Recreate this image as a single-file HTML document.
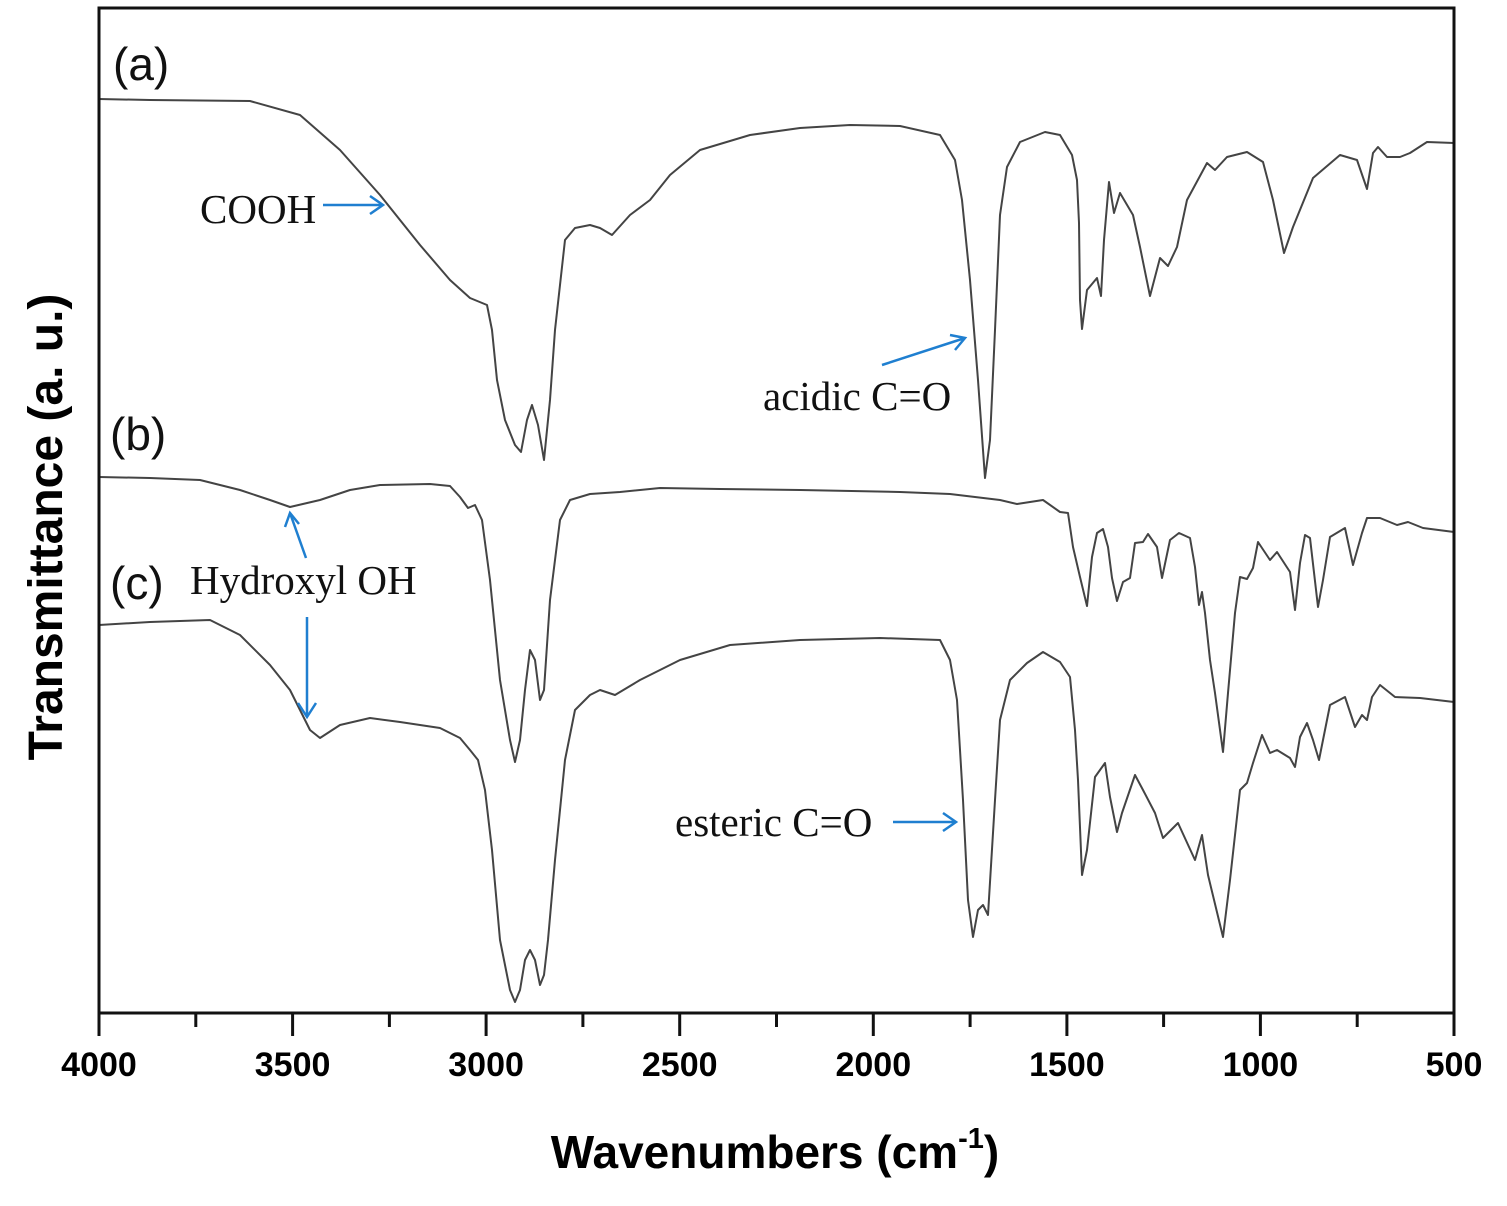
<!DOCTYPE html>
<html><head><meta charset="utf-8"><style>
html,body{margin:0;padding:0;background:#fff;}
svg{display:block;}
.tk{font-family:"Liberation Sans",Arial,sans-serif;font-weight:bold;font-size:34px;text-anchor:middle;}
.tm{font-family:"Liberation Serif",serif;font-size:41px;fill:#111;}
.lb{font-family:"Liberation Sans",Arial,sans-serif;font-size:46px;fill:#111;}
</style></head><body>
<svg width="1507" height="1206" viewBox="0 0 1507 1206" xmlns="http://www.w3.org/2000/svg">
<g fill="none" stroke="#444" stroke-width="2" stroke-linejoin="round">
<polyline points="99,99 150,100 250,101 300,115 340,150 380,195 420,245 450,280 470,298 487,305 492,330 497,380 505,420 515,445 521,452 527,420 532,405 538,425 544,460 550,400 555,330 565,240 575,228 590,225 600,228 612,235 630,215 650,200 670,175 700,150 750,135 800,128 850,125 900,126 940,135 955,160 962,200 970,280 978,380 985,478 990,440 995,330 1000,215 1007,167 1020,142 1045,132 1060,135 1072,155 1077,180 1079,223 1080,300 1082,329 1087,290 1097,278 1101,296 1104,240 1109,182 1114,213 1120,193 1133,215 1140,247 1150,296 1160,258 1168,266 1177,247 1187,200 1207,163 1215,170 1227,157 1247,152 1263,162 1273,200 1284,253 1293,227 1313,178 1340,155 1357,160 1367,189 1373,153 1378,147 1387,157 1400,157 1410,153 1427,142 1454,143"/>
<polyline points="99,477 150,478 200,480 240,490 270,500 290,507 320,500 350,490 380,485 430,484 450,486 460,497 468,508 475,505 482,520 490,580 500,680 510,740 515,762 520,740 525,690 530,650 535,660 540,700 544,690 550,600 560,520 570,500 590,494 620,492 660,488 720,489 800,490 900,492 950,494 1000,500 1017,504 1043,500 1060,512 1068,513 1073,547 1080,577 1087,606 1092,557 1097,533 1103,529 1108,547 1112,578 1117,601 1123,582 1130,578 1135,543 1143,542 1148,534 1157,547 1162,578 1170,540 1179,533 1190,538 1195,567 1199,605 1202,592 1205,613 1210,660 1215,693 1223,752 1228,693 1235,613 1240,577 1247,579 1253,568 1258,542 1270,560 1277,552 1290,572 1295,610 1300,563 1305,535 1310,538 1318,607 1323,580 1330,537 1345,528 1353,565 1362,533 1367,518 1380,518 1397,525 1408,522 1423,528 1454,532"/>
<polyline points="99,625 150,622 210,620 240,635 270,665 290,690 310,730 320,738 340,725 370,718 400,722 440,728 460,738 470,750 478,760 485,790 492,850 500,940 510,990 515,1002 520,990 525,960 530,950 535,960 540,985 544,975 548,940 555,860 565,760 575,710 590,695 600,690 615,695 640,680 680,660 730,645 800,640 880,638 940,640 950,660 957,700 963,800 968,900 973,937 978,910 983,905 988,915 995,800 1000,720 1010,680 1027,663 1043,652 1060,662 1070,677 1075,730 1078,780 1082,875 1087,850 1095,777 1105,763 1110,797 1117,832 1122,813 1135,775 1143,790 1155,813 1163,838 1178,823 1195,860 1202,835 1208,875 1223,937 1230,880 1240,790 1247,783 1253,763 1262,735 1270,753 1277,750 1290,758 1295,767 1300,737 1307,723 1313,740 1319,760 1330,705 1345,697 1355,727 1362,715 1367,720 1372,697 1380,685 1395,697 1420,698 1454,702"/>
</g>
<rect x="99" y="8" width="1355" height="1005" fill="none" stroke="#111" stroke-width="3"/>
<g stroke="#111" stroke-width="3">
<line x1="99" y1="1013" x2="99" y2="1036"/><line x1="292.6" y1="1013" x2="292.6" y2="1036"/><line x1="486.1" y1="1013" x2="486.1" y2="1036"/><line x1="679.7" y1="1013" x2="679.7" y2="1036"/><line x1="873.3" y1="1013" x2="873.3" y2="1036"/><line x1="1066.9" y1="1013" x2="1066.9" y2="1036"/><line x1="1260.4" y1="1013" x2="1260.4" y2="1036"/><line x1="1454" y1="1013" x2="1454" y2="1036"/>
<line x1="195.8" y1="1013" x2="195.8" y2="1027"/><line x1="389.4" y1="1013" x2="389.4" y2="1027"/><line x1="582.9" y1="1013" x2="582.9" y2="1027"/><line x1="776.5" y1="1013" x2="776.5" y2="1027"/><line x1="970.1" y1="1013" x2="970.1" y2="1027"/><line x1="1163.6" y1="1013" x2="1163.6" y2="1027"/><line x1="1357.2" y1="1013" x2="1357.2" y2="1027"/>
</g>
<g class="tk">
<text x="99" y="1076">4000</text><text x="292.6" y="1076">3500</text><text x="486.1" y="1076">3000</text><text x="679.7" y="1076">2500</text><text x="873.3" y="1076">2000</text><text x="1066.9" y="1076">1500</text><text x="1260.4" y="1076">1000</text><text x="1454" y="1076">500</text>
</g>
<text x="775" y="1168" text-anchor="middle" style="font-family:'Liberation Sans',Arial,sans-serif;font-weight:bold;font-size:46px">Wavenumbers (cm<tspan dy="-20" font-size="29">-1</tspan><tspan dy="20">)</tspan></text>
<text transform="translate(62,527) rotate(-90)" text-anchor="middle" style="font-family:'Liberation Sans',Arial,sans-serif;font-weight:bold;font-size:48px">Transmittance (a. u.)</text>
<text class="lb" x="113" y="80">(a)</text>
<text class="lb" x="110" y="450">(b)</text>
<text class="lb" x="110" y="599">(c)</text>
<text class="tm" x="200" y="223">COOH</text>
<text class="tm" x="763" y="410">acidic C=O</text>
<text class="tm" x="190" y="594">Hydroxyl OH</text>
<text class="tm" x="675" y="836">esteric C=O</text>
<g stroke="#1f7fd0" stroke-width="2.5" fill="none">
<line x1="323" y1="205" x2="383" y2="205"/><polyline points="370,196 383,205 370,214"/>
<line x1="882" y1="365" x2="965" y2="338"/><polyline points="950,335 965,338 955,350"/>
<line x1="306" y1="558" x2="290" y2="513"/><polyline points="285,527 290,513 299,524"/>
<line x1="307" y1="617" x2="307" y2="717"/><polyline points="298,703 307,717 316,703"/>
<line x1="893" y1="822" x2="956" y2="822"/><polyline points="943,813 956,822 943,831"/>
</g>
</svg>
</body></html>
